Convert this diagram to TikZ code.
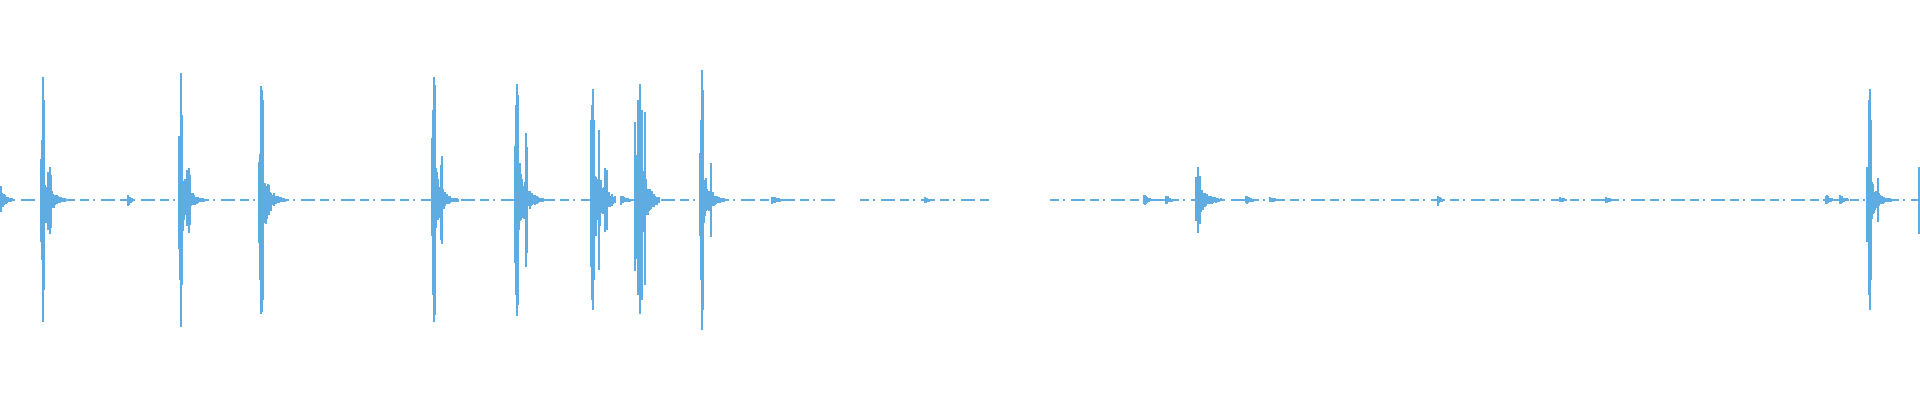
\documentclass[tikz,border=0pt]{standalone}
\usepackage{tikz}
\definecolor{wave}{RGB}{94,172,226}
\newcommand\wburst[4]{%
  \foreach \i in {0,...,#4}{%
    \pgfmathsetmacro\uu{#2*exp(-\i/#3)*(0.45+0.55*rnd)+0.8}%
    \pgfmathsetmacro\dd{#2*exp(-\i/#3)*(0.45+0.55*rnd)+0.8}%
    \fill[wave] (#1+\i-0.55,200-\uu) rectangle (#1+\i+0.55,200+\dd);
  }}
\newcommand\wspike[3]{\fill[wave] (#1-0.7,200-#2) rectangle (#1+0.7,200+#3);}
\begin{document}
\begin{tikzpicture}[x=1pt,y=-1pt]
\useasboundingbox (0,0) rectangle (1920,400);
\pgfmathsetseed{42}
\tikzset{base/.style={wave,line width=1.3pt,dash pattern=on 9pt off 4pt on 2pt off 6pt on 14pt off 5pt}}
\draw[base] (0,200) -- (835,200);
\draw[base] (860,200) -- (990,200);
\draw[base] (1050,200) -- (1920,200);
\wburst{0}{12}{5}{12}
\wspike{1}{14}{12}
\wburst{41}{60}{6}{24}
\wspike{43}{123}{122}\wspike{44}{100}{90}\wspike{42}{60}{60}
\wspike{50}{33}{34}\wspike{51}{25}{28}\wspike{48}{28}{30}
\wburst{128}{6}{3}{6}
\wburst{179}{65}{6}{26}
\wspike{181}{127}{127}\wspike{182}{85}{85}\wspike{180}{60}{80}
\wspike{189}{32}{33}\wspike{190}{25}{25}\wspike{187}{30}{26}
\wburst{259}{75}{6}{28}
\wspike{261}{114}{114}\wspike{262}{110}{112}\wspike{263}{100}{100}\wspike{260}{45}{80}
\wburst{432}{65}{6}{26}
\wspike{434}{123}{122}\wspike{435}{115}{115}\wspike{433}{90}{95}
\wspike{442}{44}{44}\wspike{441}{35}{40}
\wburst{515}{75}{7}{28}
\wspike{517}{116}{116}\wspike{518}{105}{105}\wspike{516}{95}{95}
\wspike{526}{67}{67}\wspike{527}{53}{53}
\wburst{591}{80}{8}{24}
\wspike{593}{111}{110}\wspike{592}{95}{100}\wspike{594}{80}{80}
\wspike{599}{70}{70}\wspike{605}{32}{32}\wspike{607}{30}{30}
\wburst{621}{4}{6}{10}
\wburst{635}{100}{7}{24}
\wspike{640}{116}{114}\wspike{638}{100}{95}\wspike{642}{90}{100}\wspike{645}{88}{85}
\wburst{700}{60}{6}{24}
\wspike{702}{130}{130}\wspike{703}{110}{110}\wspike{701}{80}{80}
\wspike{711}{37}{37}
\wburst{772}{4}{5}{10}
\wburst{925}{3}{3}{5}
\wburst{1144}{7}{3}{6}
\wburst{1166}{6}{3}{6}
\wburst{1196}{22}{8}{28}
\wspike{1198}{33}{33}\wspike{1200}{24}{24}
\wburst{1246}{5}{4}{10}
\wburst{1270}{3}{4}{8}
\wburst{1438}{5}{3}{4}
\wburst{1560}{3}{4}{6}
\wburst{1606}{3}{4}{6}
\wburst{1826}{6}{4}{8}
\wburst{1840}{5}{4}{8}
\wburst{1867}{45}{6}{24}
\wspike{1870}{111}{110}\wspike{1869}{100}{95}\wspike{1871}{80}{80}
\wspike{1878}{22}{22}
\wspike{1919}{33}{34}
\end{tikzpicture}
\end{document}
